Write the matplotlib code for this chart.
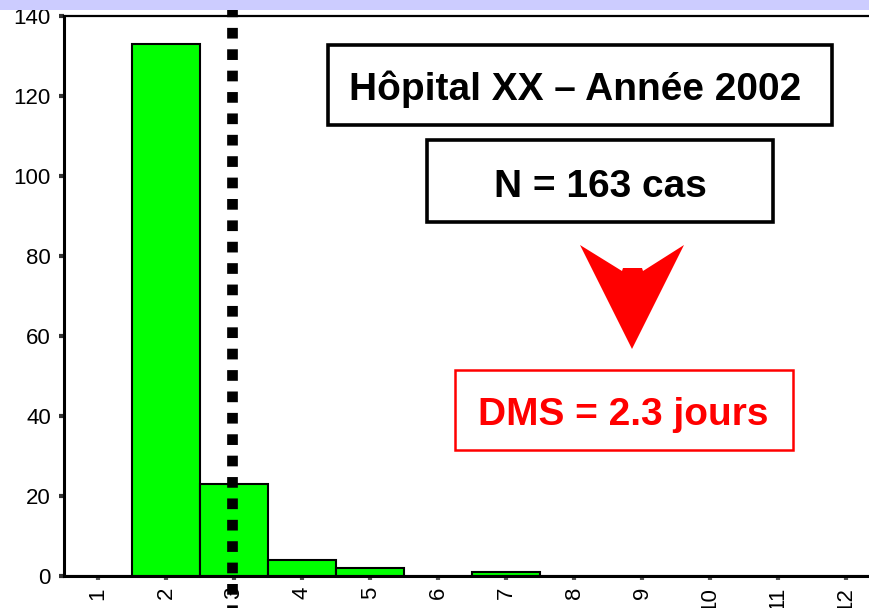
import matplotlib
matplotlib.use("Agg")
import matplotlib.pyplot as plt
from matplotlib.patches import Rectangle, Polygon
from matplotlib.lines import Line2D

# ---- data ----
categories = [1, 2, 3, 4, 5, 6, 7, 8, 9, 10, 11, 12]
counts = [0, 133, 23, 4, 2, 0, 1, 0, 0, 0, 0, 0]
xtick_labels = ['1', '2', '3', '4', '5', '6', '7', '8', '9', '10', '11', '12']
yticks = [0, 20, 40, 60, 80, 100, 120, 140]
mean_line_x = 2.97
title_text = "Hôpital XX – Année 2002"
n_text = "N = 163 cas"
dms_text = "DMS = 2.3 jours"

W, H = 870, 608
fig = plt.figure(figsize=(W / 100, H / 100), dpi=100)
fig.patch.set_facecolor('white')

def fx(x):
    return x / W

def fy(y):
    return 1 - y / H

bold_fam = ['Liberation Sans', 'DejaVu Sans']
regular = ['Liberation Sans', 'DejaVu Sans']

# axes: left 64px, top 16px, bottom 576px
ax = fig.add_axes([fx(64), fy(576), fx(870 - 64), (576 - 16) / H])
ax.bar(categories, counts, width=1.0, color='#00ff00', edgecolor='black',
       linewidth=1.5, zorder=2)
ax.set_xlim(0.5, 12.35)
ax.set_ylim(0, 140)
ax.set_yticks(yticks)
ax.set_yticklabels([str(v) for v in yticks], family=regular, fontsize=16)
ax.set_xticks(categories)
ax.set_xticklabels(xtick_labels, family=regular, fontsize=16, rotation=90,
                   va='top')
ax.spines['right'].set_visible(False)
ax.spines['left'].set_linewidth(2.2)
ax.spines['bottom'].set_linewidth(2.2)
ax.spines['top'].set_linewidth(1.6)
ax.tick_params(axis='y', direction='out', length=3.5, width=3, color='#333333',
               pad=6)
ax.tick_params(axis='x', direction='out', length=3, width=3, color='#555555',
               pad=5)

# dotted vertical line (mean marker), spanning beyond the axes
xdisp = ax.transData.transform((mean_line_x, 0))[0]
xline = fig.transFigure.inverted().transform((xdisp, 0))[0]
fig.add_artist(Line2D([xline, xline], [fy(5.6), fy(608)], color='black',
                      linewidth=7.7, dashes=(1, 1), dash_capstyle='butt',
                      zorder=5))

# lavender band at top
fig.add_artist(Rectangle((0, fy(10)), 1, 10 / H, transform=fig.transFigure,
                         facecolor='#ccccff', edgecolor='none', zorder=10))

# text boxes
def box(x0, y0, x1, y1, color, lw):
    fig.add_artist(Rectangle((fx(x0), fy(y1)), fx(x1 - x0), (y1 - y0) / H,
                             transform=fig.transFigure, facecolor='white',
                             edgecolor=color, linewidth=lw, zorder=6))

box(328, 45, 832, 125, 'black', 2.6)
fig.text(fx(575), fy(100), title_text, family=bold_fam, fontweight='bold',
         fontsize=28, ha='center', va='baseline', color='black', zorder=7)

box(427, 140, 773, 222, 'black', 2.6)
fig.text(fx(600), fy(197), n_text, family=bold_fam, fontweight='bold',
         fontsize=28, ha='center', va='baseline', color='black', zorder=7)

box(455, 370, 793, 450, 'red', 1.8)
fig.text(fx(623), fy(425), dms_text, family=bold_fam, fontweight='bold',
         fontsize=28, ha='center', va='baseline', color='red', zorder=7)

# red arrow
pts = [(580, 245), (622, 271), (623, 268), (642, 268), (643, 271),
       (684, 245), (632, 349)]
fig.add_artist(Polygon([(fx(x), fy(y)) for x, y in pts], closed=True,
                       transform=fig.transFigure, facecolor='red',
                       edgecolor='none', zorder=6))

fig.savefig('out.png', dpi=100)
